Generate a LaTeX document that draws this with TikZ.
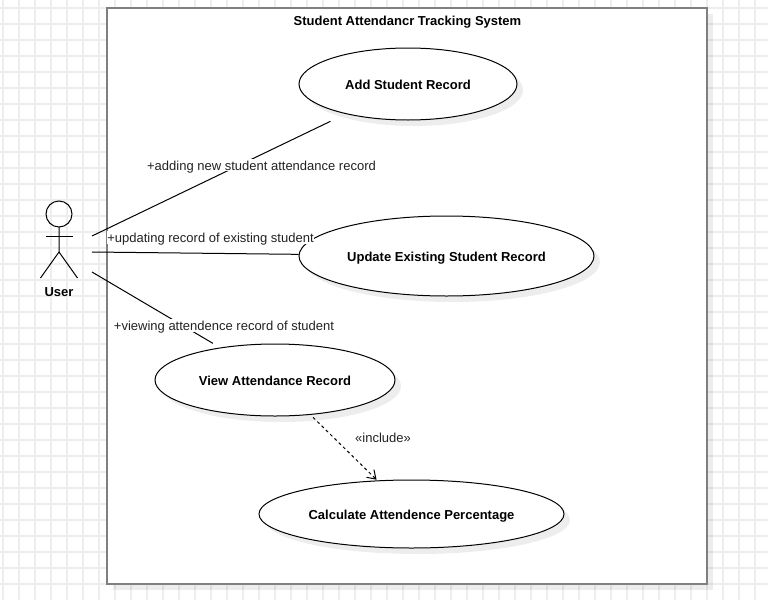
\documentclass[tikz,border=0pt]{standalone}
\usepackage{fontspec}
\setmainfont{Liberation Sans}
\usetikzlibrary{shapes.geometric,arrows.meta,shadows}
\definecolor{gridc}{HTML}{EEEEEE}
\definecolor{framec}{HTML}{808080}
\definecolor{inkc}{HTML}{222222}
\tikzset{
  softshadow/.style={drop shadow={shadow xshift=4.5pt,shadow yshift=-4.5pt,fill=black,opacity=0.07}},
  gridline/.style={draw=gridc,line width=1.1pt},
  frame/.style={rectangle,draw=framec,line width=1.5pt,fill=white,inner sep=0pt,softshadow},
  fixedtext/.style={text height=8pt,text depth=0.5pt},
  usecase/.style={ellipse,draw=black,line width=0.75pt,fill=white,inner sep=0pt,softshadow,fixedtext,font=\fontsize{9.75}{12}\selectfont\bfseries},
  conn/.style={draw=black,line width=0.75pt},
  actorline/.style={draw=black,line width=0.75pt},
  lbl/.style={font=\fontsize{9.75}{12}\selectfont,text=inkc,inner xsep=0.5pt,inner ysep=0.6pt,fixedtext},
  lblbg/.style={lbl,fill=white},
  boldlbl/.style={font=\fontsize{9.75}{12}\selectfont\bfseries,text=black,inner sep=0pt,fixedtext},
}
\begin{document}
\begin{tikzpicture}[x=0.75pt,y=-0.75pt]
\useasboundingbox (0,0) rectangle (768,600);
\fill[white] (0,0) rectangle (768,600);
\foreach \gx in {0,...,47} {\draw[gridline] ({3+16*\gx},0) -- ({3+16*\gx},600);}
\foreach \gy in {0,...,36} {\draw[gridline] (0,{8+16*\gy}) -- (768,{8+16*\gy});}
\node[frame,minimum width=450pt,minimum height=432pt] (system) at (407,296) {};
\node[boldlbl] (title) at (407.5,20) {Student Attendancr Tracking System};
% use cases placed first so that connectors can clip at their borders
\node[usecase,minimum width=163.5pt,minimum height=54pt] (add) at (408,84) {Add Student Record};
\node[usecase,minimum width=221.25pt,minimum height=60pt] (update) at (446.5,256) {Update Existing Student Record};
\node[usecase,minimum width=180pt,minimum height=54pt] (view) at (275,380) {View Attendance Record};
\node[usecase,minimum width=228.75pt,minimum height=51pt] (calc) at (411.5,514) {Calculate Attendence Percentage};
% actor
\coordinate (head) at (59,214);
\coordinate (neck) at (59,227);
\coordinate (hip) at (59,252);
\coordinate (armL) at (45.5,236);
\coordinate (armR) at (72.5,236);
\coordinate (legL) at (40.5,278);
\coordinate (legR) at (77.5,278);
\draw[actorline] (head) circle [radius=9.75pt];
\draw[actorline] (neck) -- (hip) -- (legL);
\draw[actorline] (hip) -- (legR);
\draw[actorline] (armL) -- (armR);
\node[boldlbl] (user) at (59,291) {User};
% connectors
\coordinate (u1) at (92,236);
\coordinate (u2) at (92,252);
\coordinate (u3) at (92,272);
\draw[conn,shorten >=12.6pt] (u1) -- (add);
\draw[conn] (u2) -- (update);
\draw[conn,shorten >=6.2pt] (u3) -- (view);
\draw[conn,shorten <=2.7pt,shorten >=0.7pt,dash pattern=on 2.25pt off 2.25pt,-{Straight Barb[length=6pt,width=8pt,line width=0.75pt]}] (view) -- (calc);
% labels
\node[lblbg] (l1) at (261.5,165) {+adding new student attendance record};
\node[lblbg] (l2) at (210.5,237.3) {+updating record of existing student};
\node[lblbg] (l3) at (224,325.3) {+viewing attendence record of student};
\node[lbl] (l4) at (383,437) {«include»};
\end{tikzpicture}
\end{document}
